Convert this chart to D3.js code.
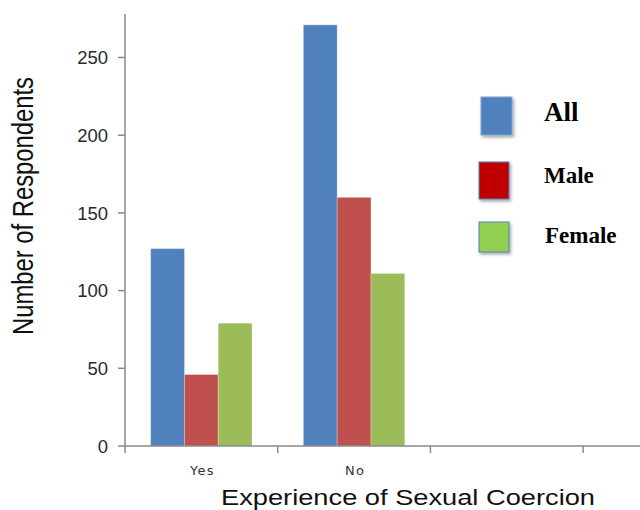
<!DOCTYPE html>
<html>
<head>
<meta charset="utf-8">
<script src="https://cdn.jsdelivr.net/npm/d3@7/dist/d3.min.js"></script>
<style>
  html, body { margin: 0; padding: 0; background: #fff; }
  svg { display: block; }
</style>
</head>
<body>
<svg id="chart" width="640" height="510"></svg>
<script>
// Survey answers: experienced sexual coercion?
const categories = ["Yes", "No"];
const slotCount = 4;                       // axis has room for four groups
const seriesNames = ["All", "Male", "Female"];
const allValues = [127, 271];
const maleValues = [46, 160];
const femaleValues = [79, 111];
const yTicks = [0, 50, 100, 150, 200, 250];

const barColors = { All: "#4F81BD", Male: "#C0504D", Female: "#9BBB59" };
const legendColors = { All: "#4F81BD", Male: "#C00000", Female: "#92D050" };

const svg = d3.select("#chart");

const x0 = 125, yBase = 446, yTop = 14, slotW = 152.7;
const x = d3.scaleBand().domain(d3.range(slotCount))
  .range([x0, x0 + slotCount * slotW]).paddingInner(0).paddingOuter(0);
const xs = d3.scaleBand().domain(seriesNames)
  .range([0, x.bandwidth()]).paddingInner(0).paddingOuter(0.76);
const y = d3.scaleLinear().domain([0, 278]).range([yBase, yTop]);

const rows = categories.map((c, i) => ({
  cat: c, idx: i,
  values: [
    { key: "All", v: allValues[i] },
    { key: "Male", v: maleValues[i] },
    { key: "Female", v: femaleValues[i] }
  ]
}));

// bars
const groups = svg.append("g").selectAll("g").data(rows).join("g")
  .attr("transform", d => `translate(${x(d.idx)},0)`);
groups.selectAll("rect").data(d => d.values).join("rect")
  .attr("x", d => xs(d.key))
  .attr("y", d => y(d.v))
  .attr("width", xs.bandwidth())
  .attr("height", d => y(0) - y(d.v))
  .attr("fill", d => barColors[d.key])
  .attr("stroke", "rgba(255,255,255,0.25)")
  .attr("stroke-width", 1);

const axisColor = "#8a8a8a";

// y axis
const yAxis = svg.append("g").attr("transform", `translate(${x0},0)`);
yAxis.append("line").attr("x1", 0).attr("x2", 0).attr("y1", yTop).attr("y2", yBase)
  .attr("stroke", axisColor).attr("stroke-width", 1.5);
yAxis.selectAll("line.tick").data(yTicks).join("line").attr("class", "tick")
  .attr("x1", -7).attr("x2", 0).attr("y1", d => y(d)).attr("y2", d => y(d))
  .attr("stroke", axisColor).attr("stroke-width", 1.5);
yAxis.selectAll("text").data(yTicks).join("text")
  .attr("x", -17).attr("y", d => y(d)).attr("dy", "0.36em")
  .attr("text-anchor", "end")
  .attr("font-family", "'Liberation Sans', Arial, sans-serif")
  .attr("font-size", 18.5).attr("fill", "#2a2a2a")
  .text(d => d);

// x axis
const xAxis = svg.append("g").attr("transform", `translate(0,${yBase})`);
xAxis.append("line").attr("x1", x0).attr("x2", 640).attr("y1", 0).attr("y2", 0)
  .attr("stroke", axisColor).attr("stroke-width", 1.5);
xAxis.selectAll("line.tick").data(d3.range(slotCount)).join("line").attr("class", "tick")
  .attr("x1", d => x(d)).attr("x2", d => x(d)).attr("y1", 0).attr("y2", 7)
  .attr("stroke", axisColor).attr("stroke-width", 1.5);
xAxis.selectAll("text").data(rows).join("text")
  .attr("x", d => x(d.idx) + x.bandwidth() / 2 + 1)
  .attr("y", 29)
  .attr("text-anchor", "middle")
  .attr("font-family", "'DejaVu Sans', Verdana, sans-serif")
  .attr("font-size", 13).attr("letter-spacing", 1.3).attr("fill", "#333")
  .text(d => d.cat);

// axis titles
svg.append("text")
  .attr("x", 408).attr("y", 505)
  .attr("text-anchor", "middle")
  .attr("font-family", "'Liberation Sans', Arial, sans-serif")
  .attr("font-size", 22).attr("fill", "#111")
  .attr("textLength", 374).attr("lengthAdjust", "spacingAndGlyphs")
  .text("Experience of Sexual Coercion");

svg.append("text")
  .attr("transform", "translate(33,206) scale(1.22,1) rotate(-90)")
  .attr("text-anchor", "middle")
  .attr("font-family", "'Liberation Sans', Arial, sans-serif")
  .attr("font-size", 24).attr("fill", "#111")
  .attr("textLength", 258).attr("lengthAdjust", "spacingAndGlyphs")
  .text("Number of Respondents");

// legend
const defs = svg.append("defs");
const f = defs.append("filter").attr("id", "shadow")
  .attr("x", "-30%").attr("y", "-30%").attr("width", "170%").attr("height", "170%");
f.append("feDropShadow").attr("dx", 1.5).attr("dy", 2).attr("stdDeviation", 1.5)
  .attr("flood-color", "#000").attr("flood-opacity", 0.35);

const legendItems = [
  { key: "All", box: [481, 97, 31, 38], tx: 544, ty: 121, fs: 27 },
  { key: "Male", box: [479, 162, 30, 37], tx: 544, ty: 183, fs: 23 },
  { key: "Female", box: [479, 222, 30, 30], tx: 545, ty: 243, fs: 23 }
];
const lg = svg.append("g").selectAll("g").data(legendItems).join("g");
lg.append("rect")
  .attr("x", d => d.box[0]).attr("y", d => d.box[1])
  .attr("width", d => d.box[2]).attr("height", d => d.box[3])
  .attr("fill", d => legendColors[d.key])
  .attr("stroke", d => d.key === "All" ? "#7DA2CF" : "#4F81BD")
  .attr("stroke-width", 1)
  .attr("filter", "url(#shadow)");
lg.append("text")
  .attr("x", d => d.tx).attr("y", d => d.ty)
  .attr("font-family", "'Liberation Serif', 'Times New Roman', serif")
  .attr("font-weight", "bold")
  .attr("font-size", d => d.fs).attr("fill", "#000")
  .text(d => d.key);
</script>
</body>
</html>
